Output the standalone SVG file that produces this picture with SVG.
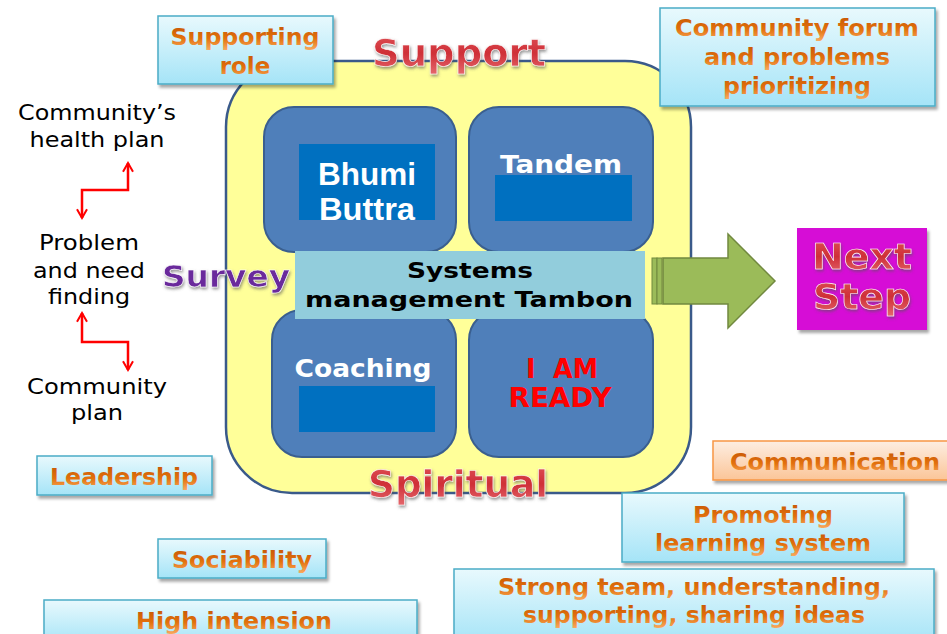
<svg xmlns="http://www.w3.org/2000/svg" width="947" height="634" viewBox="0 0 947 634">
<defs>
<linearGradient id="cyan" x1="0" y1="0" x2="0" y2="1"><stop offset="0" stop-color="#e8f9fd"/><stop offset="1" stop-color="#a5e4f7"/></linearGradient>
<linearGradient id="peach" x1="0" y1="0" x2="0" y2="1"><stop offset="0" stop-color="#fdeee2"/><stop offset="1" stop-color="#fbc598"/></linearGradient>
<linearGradient id="orangeText" x1="0" y1="0" x2="0" y2="1"><stop offset="0" stop-color="#c45505"/><stop offset="0.55" stop-color="#e2700c"/><stop offset="1" stop-color="#f9a95e"/></linearGradient>
<linearGradient id="redText" x1="0" y1="0" x2="0" y2="1"><stop offset="0" stop-color="#e0545a"/><stop offset="0.5" stop-color="#cf2f37"/><stop offset="1" stop-color="#e56a6f"/></linearGradient>
<filter id="shadow" x="-10%" y="-10%" width="130%" height="140%"><feDropShadow dx="2" dy="3" stdDeviation="1.5" flood-color="#000" flood-opacity="0.35"/></filter>
<filter id="glow" x="-10%" y="-20%" width="120%" height="150%"><feDropShadow dx="1" dy="2" stdDeviation="1.5" flood-color="#555" flood-opacity="0.6"/></filter>
<marker id="ah" viewBox="0 0 10 10" refX="8" refY="5" markerWidth="5" markerHeight="5" orient="auto-start-reverse" markerUnits="strokeWidth"><path d="M1,1 L8,5 L1,9" fill="none" stroke="#ff0000" stroke-width="1.6"/></marker>
<style>
.lbl{fill:url(#cyan);stroke:#4bacc6;stroke-width:1.5;filter:url(#shadow)}
.ot{font-family:"DejaVu Sans",Verdana,sans-serif;font-weight:bold;font-size:23px;fill:url(#orangeText);text-anchor:middle}
.rt{font-family:"DejaVu Sans",Verdana,sans-serif;font-weight:bold;fill:url(#redText);text-anchor:middle;stroke:#fff;stroke-width:0.6;filter:url(#glow)}
.blk{font-family:"DejaVu Sans",Verdana,sans-serif;font-size:22px;fill:#000;text-anchor:middle}
.tile{fill:#4f7fba;stroke:#3a5f8f;stroke-width:2}
.dk{fill:#0070c0}
.wt{font-family:"DejaVu Sans",Verdana,sans-serif;font-weight:bold;fill:#fff;text-anchor:middle}
.conn{fill:none;stroke:#ff0000;stroke-width:2.5;marker-start:url(#ah);marker-end:url(#ah)}
</style>
</defs>
<rect width="947" height="634" fill="#fff"/>

<g id="core">
<rect x="226" y="61" width="465" height="432" rx="66" fill="#ffff99" stroke="#3a5a8a" stroke-width="2.5"/>
</g>

<g id="bhumi">
<rect class="tile" x="264" y="107" width="192" height="145" rx="30"/>
<rect class="dk" x="299" y="144" width="136" height="76"/>
<text x="367" y="185" font-family="Liberation Sans,Arial,sans-serif" font-weight="bold" fill="#fff" text-anchor="middle" font-size="31" textLength="98" lengthAdjust="spacingAndGlyphs">Bhumi</text>
<text x="367" y="220" font-family="Liberation Sans,Arial,sans-serif" font-weight="bold" fill="#fff" text-anchor="middle" font-size="31" textLength="96" lengthAdjust="spacingAndGlyphs">Buttra</text>
</g>
<g id="tandem">
<rect class="tile" x="469" y="107" width="184" height="145" rx="30"/>
<text class="wt" x="561" y="173" font-size="25" textLength="122" lengthAdjust="spacingAndGlyphs">Tandem</text>
<rect class="dk" x="495" y="175" width="137" height="46"/>
</g>
<g id="coaching">
<rect class="tile" x="272" y="310" width="184" height="147" rx="30"/>
<text class="wt" x="363" y="377" font-size="25" textLength="137" lengthAdjust="spacingAndGlyphs">Coaching</text>
<rect class="dk" x="299" y="386" width="136" height="46"/>
</g>
<g id="ready">
<rect class="tile" x="469" y="310" width="184" height="147" rx="30"/>
<text x="562" y="378" font-family="DejaVu Sans,Verdana,sans-serif" font-weight="bold" font-size="26" fill="#ff0000" text-anchor="middle" style="white-space:pre" textLength="72" lengthAdjust="spacingAndGlyphs">I  AM</text>
<text x="560" y="407" font-family="DejaVu Sans,Verdana,sans-serif" font-weight="bold" font-size="26" fill="#ff0000" text-anchor="middle" textLength="103" lengthAdjust="spacingAndGlyphs">READY</text>
</g>
<g id="systems">
<rect x="295" y="251" width="350" height="68" fill="#92cddc"/>
<text class="blk" x="470" y="278" font-weight="bold" font-size="22" textLength="126" lengthAdjust="spacingAndGlyphs">Systems</text>
<text class="blk" x="469" y="307" font-weight="bold" font-size="22" textLength="328" lengthAdjust="spacingAndGlyphs">management Tambon</text>
</g>

<g id="support-label"><text class="rt" x="459" y="66" font-size="38" textLength="174" lengthAdjust="spacingAndGlyphs">Support</text></g>
<g id="spiritual-label"><text class="rt" x="458" y="497" font-size="38" textLength="180" lengthAdjust="spacingAndGlyphs">Spiritual</text></g>
<g id="survey-label"><text x="226" y="287" font-family="DejaVu Sans,Verdana,sans-serif" font-weight="bold" font-size="31" fill="#6a2a9c" text-anchor="middle" stroke="#fff" stroke-width="0.6" filter="url(#glow)" textLength="128" lengthAdjust="spacingAndGlyphs">Survey</text></g>

<g id="supporting-role">
<rect class="lbl" x="158" y="16" width="175" height="68"/>
<text class="ot" x="245" y="45" textLength="149" lengthAdjust="spacingAndGlyphs">Supporting</text>
<text class="ot" x="245" y="74">role</text>
</g>
<g id="community-forum">
<rect class="lbl" x="660" y="8" width="275" height="98"/>
<text class="ot" x="797" y="36" textLength="244" lengthAdjust="spacingAndGlyphs">Community forum</text>
<text class="ot" x="797" y="65" textLength="186" lengthAdjust="spacingAndGlyphs">and problems</text>
<text class="ot" x="797" y="94" textLength="148" lengthAdjust="spacingAndGlyphs">prioritizing</text>
</g>

<g id="arrow">
<rect x="652" y="258" width="5" height="46" fill="#9bbb59" stroke="#71893f" stroke-width="1"/>
<rect x="657" y="258" width="5" height="46" fill="#9bbb59" stroke="#71893f" stroke-width="1"/>
<polygon points="663,258 728,258 728,234 775,281 728,328 728,304 663,304" fill="#9bbb59" stroke="#71893f" stroke-width="1.5"/>
</g>
<g id="next-step">
<rect x="797" y="228" width="130" height="102" fill="#d60fd6" filter="url(#shadow)"/>
<text class="rt" x="862" y="269" font-size="36" textLength="100" lengthAdjust="spacingAndGlyphs">Next</text>
<text class="rt" x="862" y="309" font-size="36" textLength="98" lengthAdjust="spacingAndGlyphs">Step</text>
</g>

<g id="health-plan">
<text class="blk" x="97" y="120" textLength="158" lengthAdjust="spacingAndGlyphs">Community’s</text>
<text class="blk" x="97" y="147" textLength="135" lengthAdjust="spacingAndGlyphs">health plan</text>
</g>
<g id="problem">
<text class="blk" x="89" y="250" textLength="100" lengthAdjust="spacingAndGlyphs">Problem</text>
<text class="blk" x="89" y="278" textLength="112" lengthAdjust="spacingAndGlyphs">and need</text>
<text class="blk" x="89" y="304" textLength="82" lengthAdjust="spacingAndGlyphs">finding</text>
</g>
<g id="community-plan">
<text class="blk" x="97" y="394" textLength="140" lengthAdjust="spacingAndGlyphs">Community</text>
<text class="blk" x="97" y="420" textLength="52" lengthAdjust="spacingAndGlyphs">plan</text>
</g>

<g id="connectors">
<polyline class="conn" points="128,163 128,190 82,190 82,218"/>
<polyline class="conn" points="82,313 82,342 128,342 128,370"/>
</g>

<g id="leadership">
<rect class="lbl" x="37" y="456" width="175" height="39"/>
<text class="ot" x="124" y="485" textLength="148" lengthAdjust="spacingAndGlyphs">Leadership</text>
</g>
<g id="sociability">
<rect class="lbl" x="158" y="539" width="168" height="39"/>
<text class="ot" x="242" y="568" textLength="140" lengthAdjust="spacingAndGlyphs">Sociability</text>
</g>
<g id="high-intension">
<rect class="lbl" x="44" y="600" width="373" height="45"/>
<text class="ot" x="234" y="629" textLength="196" lengthAdjust="spacingAndGlyphs">High intension</text>
</g>
<g id="communication">
<rect x="713" y="441" width="240" height="39" fill="url(#peach)" stroke="#f79646" stroke-width="1.5" filter="url(#shadow)"/>
<text class="ot" x="835" y="470" textLength="210" lengthAdjust="spacingAndGlyphs">Communication</text>
</g>
<g id="promoting">
<rect class="lbl" x="622" y="493" width="282" height="69"/>
<text class="ot" x="763" y="523" textLength="140" lengthAdjust="spacingAndGlyphs">Promoting</text>
<text class="ot" x="763" y="551" textLength="216" lengthAdjust="spacingAndGlyphs">learning system</text>
</g>
<g id="strong-team">
<rect class="lbl" x="454" y="569" width="480" height="75"/>
<text class="ot" x="694" y="595" textLength="392" lengthAdjust="spacingAndGlyphs">Strong team, understanding,</text>
<text class="ot" x="694" y="623" textLength="342" lengthAdjust="spacingAndGlyphs">supporting, sharing ideas</text>
</g>
</svg>
